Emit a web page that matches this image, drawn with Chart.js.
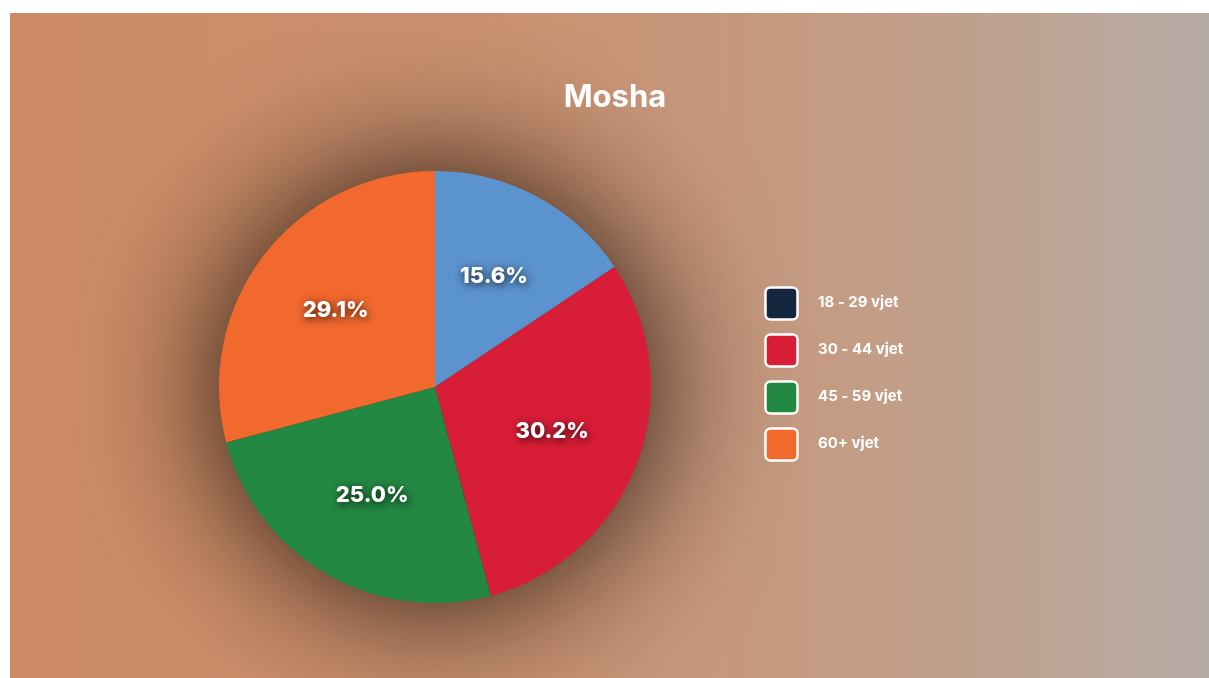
<!DOCTYPE html>
<html>
<head>
<meta charset="utf-8">
<script src="https://cdn.jsdelivr.net/npm/chart.js@4.4.1/dist/chart.umd.min.js"></script>
<style>
  html, body { margin: 0; padding: 0; background: #fff; }
  #wrap {
    position: absolute; left: 10px; top: 13px; width: 1199px; height: 665px;
    background: linear-gradient(90deg, #cc8a64 0%, #c99273 45%, #c29e88 75%, #b7aba5 100%);
  }
  canvas { display: block; }
</style>
</head>
<body>
<div id="wrap"><canvas id="pie" width="1199" height="665"></canvas></div>
<script>
// Datos
const titleText = 'Mosha';
const labels = ['18 - 29 vjet', '30 - 44 vjet', '45 - 59 vjet', '60+ vjet'];
const values = [15.6, 30.2, 25.0, 29.1];
const sliceColors = ['#5b93cf', '#d81e36', '#238842', '#f2692e'];
const legendColors = ['#14273e', '#d81e36', '#238842', '#f2692e'];

const FONT = 'Inter, "Open Sans", sans-serif';

// sombra grande detras del pastel
const shadowPlugin = {
  id: 'pieShadow',
  beforeDatasetsDraw(chart) {
    const arc = chart.getDatasetMeta(0).data[0];
    if (!arc) return;
    const ctx = chart.ctx;
    ctx.save();
    ctx.shadowColor = 'rgba(20,8,2,0.95)';
    ctx.shadowBlur = 140;
    ctx.fillStyle = '#3a2418';
    ctx.beginPath();
    ctx.arc(arc.x, arc.y, arc.outerRadius - 2, 0, Math.PI * 2);
    ctx.fill();
    ctx.restore();
  }
};

// titulo, porcentajes y leyenda
const textPlugin = {
  id: 'pieText',
  afterDatasetsDraw(chart) {
    const ctx = chart.ctx;
    const meta = chart.getDatasetMeta(0);

    ctx.save();
    ctx.fillStyle = '#fff';
    ctx.textAlign = 'center';
    ctx.textBaseline = 'middle';
    ctx.font = `700 31px ${FONT}`;
    ctx.fillText(titleText, 605, 85);

    // porcentajes
    ctx.font = `800 22px ${FONT}`;
    ctx.shadowColor = 'rgba(0,0,0,0.85)';
    ctx.shadowBlur = 8;
    ctx.shadowOffsetX = 1;
    ctx.shadowOffsetY = 2;
    meta.data.forEach((arc, i) => {
      const mid = (arc.startAngle + arc.endAngle) / 2;
      const r = arc.outerRadius * 0.58;
      ctx.fillText(values[i].toFixed(1) + '%', arc.x + Math.cos(mid) * r, arc.y + Math.sin(mid) * r);
    });
    ctx.restore();

    // leyenda
    ctx.save();
    ctx.textAlign = 'left';
    ctx.textBaseline = 'middle';
    ctx.font = `700 15px ${FONT}`;
    labels.forEach((lab, i) => {
      const x = 755.5, y = 274.5 + i * 47;
      ctx.beginPath();
      ctx.roundRect(x, y, 32, 32, 5);
      ctx.fillStyle = legendColors[i];
      ctx.fill();
      ctx.lineWidth = 2.5;
      ctx.strokeStyle = '#fff';
      ctx.stroke();
      ctx.fillStyle = '#fff';
      ctx.fillText(lab, 808, y + 15);
    });
    ctx.restore();
  }
};

new Chart(document.getElementById('pie'), {
  type: 'pie',
  data: {
    labels: labels,
    datasets: [{
      data: values,
      backgroundColor: sliceColors,
      borderWidth: 0
    }]
  },
  options: {
    responsive: false,
    animation: false,
    layout: { padding: { left: 209, right: 558, top: 158, bottom: 75 } },
    plugins: {
      legend: { display: false },
      tooltip: { enabled: false },
      title: { display: false }
    }
  },
  plugins: [shadowPlugin, textPlugin]
});
</script>
</body>
</html>
